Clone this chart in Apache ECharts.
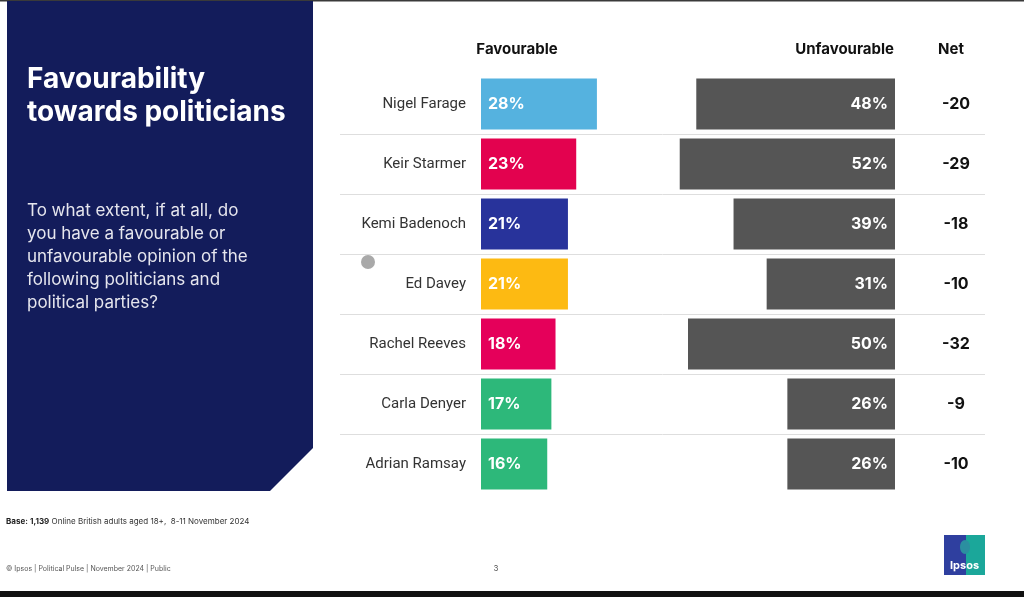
<!DOCTYPE html>
<html><head><meta charset="utf-8">
<script src="https://cdn.jsdelivr.net/npm/echarts@6/dist/echarts.min.js"></script>
<style>html,body{margin:0;padding:0;background:#fff}#c{width:1024px;height:597px}</style>
</head><body><div id="c"></div>
<script>
const categories = ['Nigel Farage','Keir Starmer','Kemi Badenoch','Ed Davey','Rachel Reeves','Carla Denyer','Adrian Ramsay'];
const favourable = [28,23,21,21,18,17,16];
const unfavourable = [48,52,39,31,50,26,26];
const net = ['-20','-29','-18','-10','-32','-9','-10'];
const favColors = ['#55b2df','#e3024f','#28339b','#fdba12','#e5005a','#2db87a','#2db87a'];

const FONT = 'Inter, Roboto, sans-serif';
const chart = echarts.init(document.getElementById('c'), null, {renderer:'canvas'});
const gridTop = 74, gridH = 420;
chart.setOption({
  animation:false,
  backgroundColor:'#ffffff',
  grid:[
    {left:481, top:gridTop, width:414, height:gridH},
    {left:481, top:gridTop, width:414, height:gridH},
    {left:340, top:gridTop, width:645, height:gridH}
  ],
  xAxis:[
    {type:'value', gridIndex:0, min:0, max:100, show:false},
    {type:'value', gridIndex:1, min:0, max:100, inverse:true, show:false},
    {type:'value', gridIndex:2, min:0, max:100, show:false}
  ],
  yAxis:[
    {type:'category', gridIndex:0, inverse:true, data:categories,
     axisLine:{show:false}, axisTick:{show:false}, splitLine:{show:false},
     axisLabel:{margin:15, fontSize:15, color:'#333', fontFamily:'Roboto, sans-serif'}},
    {type:'category', gridIndex:1, inverse:true, position:'right', data:net,
     axisLine:{show:false}, axisTick:{show:false}, splitLine:{show:false},
     axisLabel:{margin:61, align:'center', fontSize:16, fontWeight:'bold', color:'#111', fontFamily:FONT}},
    {type:'category', gridIndex:2, inverse:true, data:categories,
     axisLine:{show:false}, axisTick:{show:false}, axisLabel:{show:false},
     splitLine:{show:true, showMinLine:false, showMaxLine:false, lineStyle:{color:'#dedede', width:1}}}
  ],
  series:[
    {type:'bar', xAxisIndex:0, yAxisIndex:0, barCategoryGap:'15%',
     data:favourable.map((v,i)=>({value:v, itemStyle:{color:favColors[i]}})),
     label:{show:true, position:'insideLeft', distance:7, formatter:'{c}%', color:'#fff', fontWeight:'bold', fontSize:16, fontFamily:FONT}},
    {type:'bar', xAxisIndex:1, yAxisIndex:1, barCategoryGap:'15%',
     data:unfavourable, itemStyle:{color:'#555555'},
     label:{show:true, position:'insideRight', distance:7, formatter:'{c}%', color:'#fff', fontWeight:'bold', fontSize:16, fontFamily:FONT}}
  ],
  graphic:[
    {type:'rect', shape:{x:0,y:0,width:1024,height:1.5}, style:{fill:'#3a3a3a'}, z:-1},
    {type:'rect', shape:{x:0,y:591,width:1024,height:6}, style:{fill:'#111'}, z:-1},
    {type:'polygon', shape:{points:[[7,1],[313,1],[313,448],[270,491],[7,491]]}, style:{fill:'#131c5b'}, z:-1},
    {type:'text', x:27, y:63, style:{text:'Favourability\ntowards politicians', fill:'#fff', font:'bold 28px '+FONT, lineHeight:33}},
    {type:'text', x:27, y:199, style:{text:'To what extent, if at all, do\nyou have a favourable or\nunfavourable opinion of the\nfollowing politicians and\npolitical parties?', fill:'#e6e6ee', font:'17px '+FONT, lineHeight:23}},
    {type:'text', x:517, y:49, style:{text:'Favourable', fill:'#111', font:'bold 15px '+FONT, align:'center', verticalAlign:'middle'}},
    {type:'text', x:894, y:49, style:{text:'Unfavourable', fill:'#111', font:'bold 15px '+FONT, align:'right', verticalAlign:'middle'}},
    {type:'text', x:951, y:49, style:{text:'Net', fill:'#111', font:'bold 15px '+FONT, align:'center', verticalAlign:'middle'}},
    {type:'circle', shape:{cx:368, cy:262, r:7}, style:{fill:'#a9a9a9'}},
    {type:'text', x:6, y:522, style:{text:'{b|Base:} {b|1,139} Online British adults aged 18+,  8-11 November 2024', verticalAlign:'middle', font:'8px '+FONT, fill:'#333', rich:{b:{fontWeight:'bold', fontSize:8, fontFamily:FONT, fill:'#222'}}}},
    {type:'text', x:6, y:569, style:{text:'© Ipsos | Political Pulse | November 2024 | Public', verticalAlign:'middle', font:'7px '+FONT, fill:'#555'}},
    {type:'text', x:496, y:569, style:{text:'3', verticalAlign:'middle', align:'center', font:'8px '+FONT, fill:'#555'}},
    {type:'group', x:944, y:535, children:[
      {type:'rect', shape:{x:0,y:0,width:22,height:40}, style:{fill:'#2f3f9f'}},
      {type:'rect', shape:{x:22,y:0,width:19,height:40}, style:{fill:'#1ba79a'}},
      {type:'ellipse', shape:{cx:21, cy:12, rx:5, ry:7}, style:{fill:'#2b8fa0'}},
      {type:'text', x:20.5, y:31, style:{text:'Ipsos', fill:'#fff', font:'bold 11px '+FONT, align:'center', verticalAlign:'middle'}}
    ]}
  ]
});
</script></body></html>
